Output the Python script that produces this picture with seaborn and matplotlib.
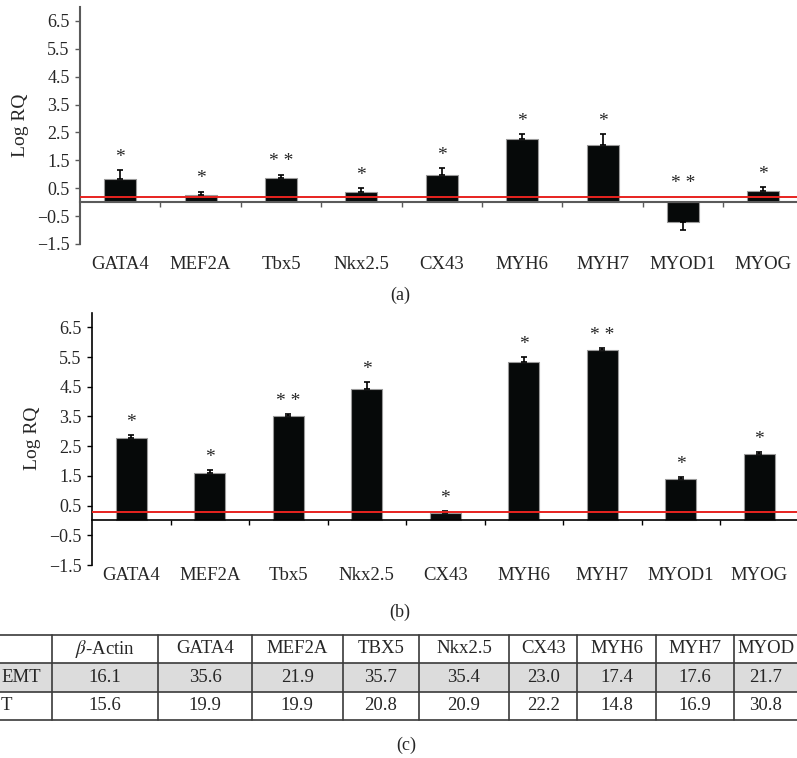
import matplotlib
matplotlib.use("Agg")
import matplotlib.pyplot as plt
import numpy as np
import seaborn as sns

sns.set_style("ticks")
plt.rcParams['font.family'] = ['Liberation Serif', 'DejaVu Serif']
plt.rcParams['mathtext.fontset'] = 'stix'

genes = ["GATA4", "MEF2A", "Tbx5", "Nkx2.5", "CX43", "MYH6", "MYH7", "MYOD1", "MYOG"]

# panel (a)
logrq_a = [0.84, 0.26, 0.85, 0.37, 0.99, 2.28, 2.04, -0.72, 0.41]
err_a = [0.31, 0.12, 0.14, 0.14, 0.22, 0.15, 0.39, 0.26, 0.12]
stars_a = ["*", "*", "* *", "*", "*", "*", "*", "* *", "*"]
cutoff_a = 0.2

# panel (b)
logrq_b = [2.76, 1.61, 3.53, 4.41, 0.24, 5.34, 5.74, 1.38, 2.25]
err_b = [0.11, 0.08, 0.04, 0.25, 0.08, 0.16, 0.06, 0.09, 0.06]
stars_b = ["*", "*", "* *", "*", "*", "*", "* *", "*", "*"]
cutoff_b = 0.27

yticks = [-1.5, -0.5, 0.5, 1.5, 2.5, 3.5, 4.5, 5.5, 6.5]
ytick_labels = ["\u22121.5", "\u22120.5", "0.5", "1.5", "2.5", "3.5", "4.5", "5.5", "6.5"]

# panel (c) table
table_header = ["", r"$\beta$-Actin", "GATA4", "MEF2A", "TBX5", "Nkx2.5", "CX43", "MYH6", "MYH7", "MYOD"]
row_names = ["EMT", "T"]
ct_emt = [16.1, 35.6, 21.9, 35.7, 35.4, 23.0, 17.4, 17.6, 21.7]
ct_t = [15.6, 19.9, 19.9, 20.8, 20.9, 22.2, 14.8, 16.9, 30.8]

W, H = 797, 758
fig = plt.figure(figsize=(W / 100, H / 100), dpi=100)


def bar_panel(rect, vals, errs, stars, cutoff, axcolor, axlw, label_off):
    ax = fig.add_axes(rect)
    sns.barplot(x=genes, y=vals, color="#060909", saturation=1, width=0.4,
                edgecolor="#9a9a9a", linewidth=0.8, ax=ax, zorder=2)
    x = np.arange(len(genes))
    v = np.array(vals)
    e = np.array(errs)
    lower = np.where(v < 0, e, 0)
    upper = np.where(v < 0, 0, e)
    ax.errorbar(x, v, yerr=[lower, upper], fmt="none", ecolor="black",
                elinewidth=1.2, capsize=2.5, capthick=1.2, zorder=3)
    ax.axhline(cutoff, color="#e8231f", lw=1.4, zorder=4)
    for xi, vi, ei, s in zip(x, v, e, stars):
        top = vi + ei if vi > 0 else cutoff
        ax.annotate(s, (xi, top), xytext=(0, 3), textcoords="offset points",
                    ha="center", va="bottom", fontsize=14)
    ax.set_ylim(-1.5, 7.0)
    ax.set_xlim(-0.5, 8.5)
    ax.set_yticks(yticks)
    ax.set_yticklabels(ytick_labels, fontsize=13)
    ax.set_xticks(np.arange(0.5, len(genes) - 1, 1))
    ax.set_xticklabels([])
    ax.spines["bottom"].set_position(("data", 0))
    for side in ["top", "right"]:
        ax.spines[side].set_visible(False)
    for side in ["left", "bottom"]:
        ax.spines[side].set_color(axcolor)
        ax.spines[side].set_linewidth(axlw)
    ax.tick_params(axis="both", direction="out", length=3.5, width=1,
                   color=axcolor, pad=4)
    ax.set_ylabel("Log RQ", fontsize=14, labelpad=6)
    ax.set_xlabel("")
    for xi, g in zip(x, genes):
        ax.text(xi, label_off, g, transform=ax.get_xaxis_transform(),
                ha="center", va="center", fontsize=13.5)
    ax.set_facecolor("none")
    return ax


bar_panel([80 / W, (H - 244) / H, 723.6 / W, 237 / H],
          logrq_a, err_a, stars_a, cutoff_a, "#5a5a5a", 1.5, -0.088)
bar_panel([92 / W, (H - 565) / H, 706.5 / W, 252.5 / H],
          logrq_b, err_b, stars_b, cutoff_b, "black", 1.2, -0.04)

fig.text(400 / W, 1 - 295 / H, "(a)", ha="center", va="center", fontsize=13)
fig.text(400 / W, 1 - 612 / H, "(b)", ha="center", va="center", fontsize=13)
fig.text(406 / W, 1 - 745 / H, "(c)", ha="center", va="center", fontsize=13)

# table drawn in pixel space
tax = fig.add_axes([0, 0, 1, 1], zorder=-1)
tax.set_xlim(0, W)
tax.set_ylim(H, 0)
tax.axis("off")
col_edges = [-40, 51.7, 158.3, 251.7, 342.7, 419, 509, 577.3, 656, 734, 798]
row_edges = [635, 662.7, 691.7, 720]
line_c = "#3a3a3a"
tax.fill_between([0, W], row_edges[1], row_edges[2], color="#dcdcdc", lw=0)
for yy in row_edges:
    tax.plot([0, W], [yy, yy], color=line_c, lw=1.2)
for xx in col_edges[1:-1]:
    tax.plot([xx, xx], [row_edges[0], row_edges[-1]], color=line_c, lw=1.2)
centers = [(a + b) / 2 for a, b in zip(col_edges[:-1], col_edges[1:])]
ymid = [(a + b) / 2 for a, b in zip(row_edges[:-1], row_edges[1:])]
for cx, h in zip(centers[1:], table_header[1:]):
    tax.text(cx, ymid[0], h, ha="center", va="center", fontsize=13.5)
for ri, (name, vals) in enumerate(zip(row_names, [ct_emt, ct_t])):
    yy = ymid[ri + 1]
    tax.text(1, yy, name, ha="left", va="center", fontsize=13.5)
    for cx, val in zip(centers[1:], vals):
        tax.text(cx, yy, f"{val:.1f}", ha="center", va="center", fontsize=13.5)

fig.savefig("out.png", dpi=100)
